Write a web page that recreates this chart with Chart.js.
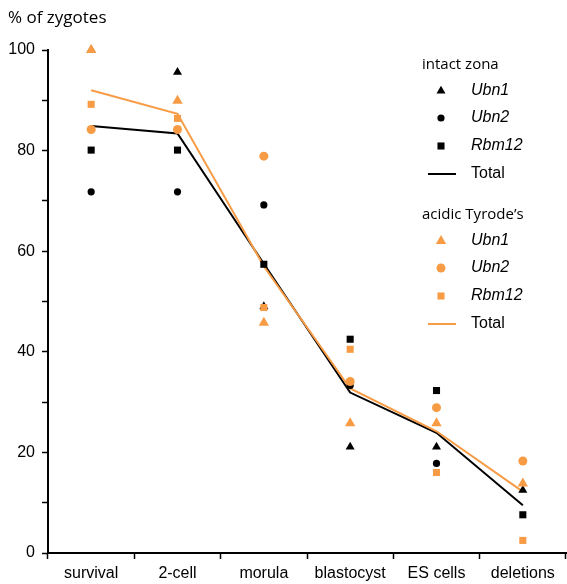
<!DOCTYPE html>
<html>
<head>
<meta charset="utf-8">
<script src="https://cdn.jsdelivr.net/npm/chart.js@4/dist/chart.umd.min.js"></script>
<style>
  html, body { margin: 0; padding: 0; background: #fff; }
  #wrap { width: 567px; height: 584px; position: relative; }
</style>
</head>
<body>
<div id="wrap"><canvas id="chart" width="567" height="584"></canvas></div>
<script>
// Data
const stages = ['survival', '2-cell', 'morula', 'blastocyst', 'ES cells', 'deletions'];

// intact zona
const zonaUbn1 = [100, 95.6, 49, 21.1, 21.1, 12.5];
const zonaUbn2 = [71.8, 71.8, 69.2, 33.3, 17.8, null];
const zonaRbm12 = [80.1, 80.1, 57.4, 42.5, 32.3, 7.6];
const zonaTotal = [84.9, 83.4, 57.5, 31.9, 23.9, 9.5];

// acidic Tyrode's
const tyrUbn1 = [100, 89.9, 45.8, 25.8, 25.8, 13.8];
const tyrUbn2 = [84.2, 84.2, 78.9, 34.1, 28.9, 18.3];
const tyrRbm12 = [89.2, 86.4, 48.8, 40.5, 16.0, 2.5];
const tyrTotal = [92.0, 87.3, 57.0, 32.7, 24.2, 12.2];

const black = '#000000';
const orange = '#F79B45';
const sansFont = "'Liberation Sans', Arial, sans-serif";
const humanFont = "'Open Sans', 'Noto Sans', sans-serif";

function markers(data, color, style, radius) {
  return {
    data: data,
    showLine: false,
    clip: false,
    pointStyle: style,
    pointRadius: radius,
    pointHoverRadius: radius,
    pointBackgroundColor: color,
    pointBorderColor: color,
    pointBorderWidth: 0,
    borderColor: color,
    backgroundColor: color
  };
}

function totalLine(data, color) {
  return {
    data: data,
    borderColor: color,
    borderWidth: 2,
    pointRadius: 0,
    tension: 0,
    fill: false
  };
}

// draw a small marker for the legend
function drawMarker(ctx, style, x, y, r, color) {
  ctx.save();
  ctx.fillStyle = color;
  ctx.beginPath();
  if (style === 'triangle') {
    ctx.moveTo(x, y - r);
    ctx.lineTo(x + r * 0.866, y + r * 0.5);
    ctx.lineTo(x - r * 0.866, y + r * 0.5);
    ctx.closePath();
  } else if (style === 'circle') {
    ctx.arc(x, y, r, 0, Math.PI * 2);
  } else {
    const s = r * Math.SQRT1_2;
    ctx.rect(x - s, y - s, 2 * s, 2 * s);
  }
  ctx.fill();
  ctx.restore();
}

const legendGroups = [
  { title: 'intact zona', color: black, top: 65, sizes: [5.2, 3.6, 5] },
  { title: 'acidic Tyrode\u2019s', color: orange, top: 215, sizes: [6, 4.5, 5] }
];
const legendNames = ['Ubn1', 'Ubn2', 'Rbm12'];
const legendStyles = ['triangle', 'circle', 'rect'];

const extrasPlugin = {
  id: 'extras',
  afterDraw(chart) {
    const ctx = chart.ctx;
    ctx.save();
    ctx.fillStyle = '#000';
    ctx.textBaseline = 'middle';
    ctx.textAlign = 'left';

    // axis title
    ctx.font = '17px ' + humanFont;
    ctx.fillText('% of zygotes', 8, 18);

    // grouped legend
    legendGroups.forEach(g => {
      ctx.font = '15px ' + humanFont;
      ctx.fillStyle = '#000';
      ctx.fillText(g.title, 422, g.top);
      const rows = [g.top + 26, g.top + 53, g.top + 81, g.top + 109];
      legendNames.forEach((name, i) => {
        drawMarker(ctx, legendStyles[i], 441, rows[i], g.sizes[i], g.color);
        ctx.font = 'italic 16px ' + sansFont;
        ctx.fillStyle = '#000';
        ctx.fillText(name, 471, rows[i]);
      });
      ctx.strokeStyle = g.color;
      ctx.lineWidth = 2;
      ctx.beginPath();
      ctx.moveTo(428, rows[3]);
      ctx.lineTo(456, rows[3]);
      ctx.stroke();
      ctx.font = '16px ' + sansFont;
      ctx.fillStyle = '#000';
      ctx.fillText('Total', 471, rows[3]);
    });
    ctx.restore();
  }
};

const ctx = document.getElementById('chart').getContext('2d');
const chart = new Chart(ctx, {
  type: 'line',
  data: {
    labels: stages,
    datasets: [
      markers(tyrUbn1, orange, 'triangle', 6),
      markers(tyrUbn2, orange, 'circle', 4.5),
      markers(tyrRbm12, orange, 'rect', 5),
      markers(zonaUbn1, black, 'triangle', 5.2),
      markers(zonaUbn2, black, 'circle', 3.6),
      markers(zonaRbm12, black, 'rect', 5),
      totalLine(tyrTotal, orange),
      totalLine(zonaTotal, black)
    ]
  },
  options: {
    responsive: false,
    animation: false,
    layout: { autoPadding: false, padding: { top: 50, right: 1, bottom: 0, left: 0 } },
    plugins: {
      legend: { display: false },
      tooltip: { enabled: false }
    },
    scales: {
      x: {
        offset: true,
        grid: { offset: true, drawOnChartArea: false, drawTicks: true, tickLength: 6, tickColor: black, tickWidth: 1.5 },
        border: { color: black, width: 2 },
        ticks: { color: black, font: { family: sansFont, size: 16 }, padding: 5, maxRotation: 0 },
        afterFit(scale) {
          scale.height = 31;
          scale.paddingLeft = 0;
          scale.paddingRight = 0;
        }
      },
      y: {
        min: 0,
        max: 100,
        grid: { drawOnChartArea: false, drawTicks: true, tickLength: 6, tickColor: black, tickWidth: 1.5 },
        border: { color: black, width: 2 },
        ticks: {
          stepSize: 10,
          color: black,
          padding: 7,
          font: { family: sansFont, size: 16 },
          callback: v => (v % 20 === 0 ? v : '')
        },
        afterFit(scale) { scale.width = 48; }
      }
    }
  },
  plugins: [extrasPlugin]
});
</script>
</body>
</html>
